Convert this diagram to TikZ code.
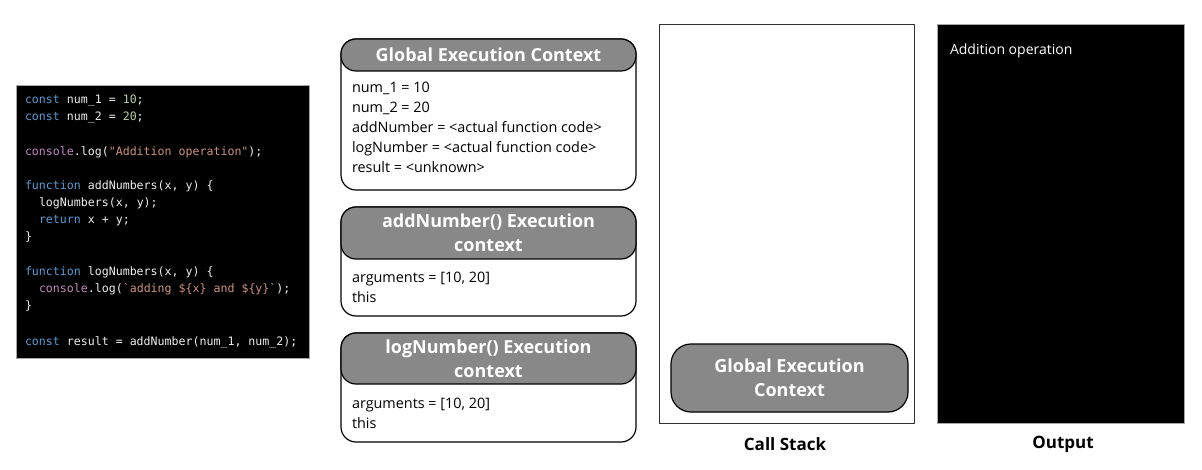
\documentclass[tikz,border=0pt]{standalone}
\usepackage{fontspec}
\setmainfont{Open Sans}
\newfontfamily\codefont{DejaVu Sans Mono}
\begin{document}
\begin{tikzpicture}[x=1pt,y=-1pt,
  every node/.style={inner sep=0pt, outer sep=0pt},
  codeline/.style={anchor=base west, font=\codefont\fontsize{11.6}{14}\selectfont, text=codetxt},
  ctxbox/.style={draw=black, line width=1.2pt, fill=white, rounded corners=15pt},
  ctxhead/.style={draw=black, line width=1.2pt, fill=headgray, rounded corners=15pt,
    text=white, font=\bfseries\fontsize{18}{24}\selectfont, align=center},
  bodyline/.style={anchor=base west, font=\fontsize{14.4}{20}\selectfont, text=black},
  caption/.style={font=\bfseries\fontsize{17}{20}\selectfont, text=black}]

\definecolor{headgray}{HTML}{888888}
\definecolor{codetxt}{HTML}{EEEEEE}
\definecolor{kw}{HTML}{569CD6}
\definecolor{numc}{HTML}{B5CEA8}
\definecolor{fn}{HTML}{C586C0}
\definecolor{str}{HTML}{CE9178}

\useasboundingbox[fill=white] (0,0) rectangle (1202,470);

% ---- source code panel ----
\node[draw=gray!70, line width=0.8pt, fill=black, minimum width=293, minimum height=273,
  anchor=north west] (code) at (16,85) {};
\newcommand{\kwd}[1]{\textcolor{kw}{#1}}
\newcommand{\nmb}[1]{\textcolor{numc}{#1}}
\newcommand{\fnc}[1]{\textcolor{fn}{#1}}
\newcommand{\strg}[1]{\textcolor{str}{#1}}
\node[codeline] (c1) at (25,104) {\kwd{const} num\_1 = \nmb{10};};
\node[codeline] (c2) at (25,121) {\kwd{const} num\_2 = \nmb{20};};
\node[codeline] (c3) at (25,156) {\fnc{console}.log(\strg{"Addition operation"});};
\node[codeline] (c4) at (25,190) {\kwd{function} addNumbers(x, y) \{};
\node[codeline] (c5) at (39,207) {logNumbers(x, y);};
\node[codeline] (c6) at (39,224) {\kwd{return} x + y;};
\node[codeline] (c7) at (25,241) {\}};
\node[codeline] (c8) at (25,276) {\kwd{function} logNumbers(x, y) \{};
\node[codeline] (c9) at (39,293) {\fnc{console}.log(\strg{\symbol{96}adding \$\{x\} and \$\{y\}\symbol{96}});};
\node[codeline] (c10) at (25,310) {\}};
\node[codeline] (c11) at (25,345) {\kwd{const} result = addNumber(num\_1, num\_2);};

% ---- global execution context ----
\node[ctxbox, minimum width=295, minimum height=151] (gec) at (488.5,114.5) {};
\node[ctxhead, minimum width=295, minimum height=32] (gech) at (488.5,55) {Global Execution Context};
\node[bodyline] (g1) at (352,93) {num\_1 = 10};
\node[bodyline] (g2) at (352,113) {num\_2 = 20};
\node[bodyline] (g3) at (352,133) {addNumber = <actual function code>};
\node[bodyline] (g4) at (352,153) {logNumber = <actual function code>};
\node[bodyline] (g5) at (352,173) {result = <unknown>};

% ---- addNumber() execution context ----
\node[ctxbox, minimum width=295, minimum height=109] (aec) at (488.5,261.5) {};
\node[ctxhead, minimum width=295, minimum height=52] (aech) at (488.5,233) {addNumber() Execution\\context};
\node[bodyline] (a1) at (352,283) {arguments = [10, 20]};
\node[bodyline] (a2) at (352,303) {this};

% ---- logNumber() execution context ----
\node[ctxbox, minimum width=295, minimum height=109] (lec) at (488.5,387.5) {};
\node[ctxhead, minimum width=295, minimum height=51] (lech) at (488.5,358.5) {logNumber() Execution\\context};
\node[bodyline] (l1) at (352,408) {arguments = [10, 20]};
\node[bodyline] (l2) at (352,428) {this};

% ---- call stack ----
\node[draw=black!80, line width=0.9pt, minimum width=255, minimum height=399,
  anchor=north west] (stack) at (659,24) {};
\node[ctxhead, rounded corners=20pt, minimum width=237, minimum height=68] (sgec) at (789.5,378) {Global Execution\\Context};
\node[caption] (stacklbl) at (785,444) {Call Stack};

% ---- console output ----
\node[draw=gray!70, line width=0.8pt, fill=black, minimum width=247, minimum height=399,
  anchor=north west] (out) at (937,24) {};
\node[anchor=base west, text=white, font=\fontsize{14}{16}\selectfont] (outtxt) at (950,55) {Addition operation};
\node[caption] (outlbl) at (1063,444) {Output};

\end{tikzpicture}
\end{document}
